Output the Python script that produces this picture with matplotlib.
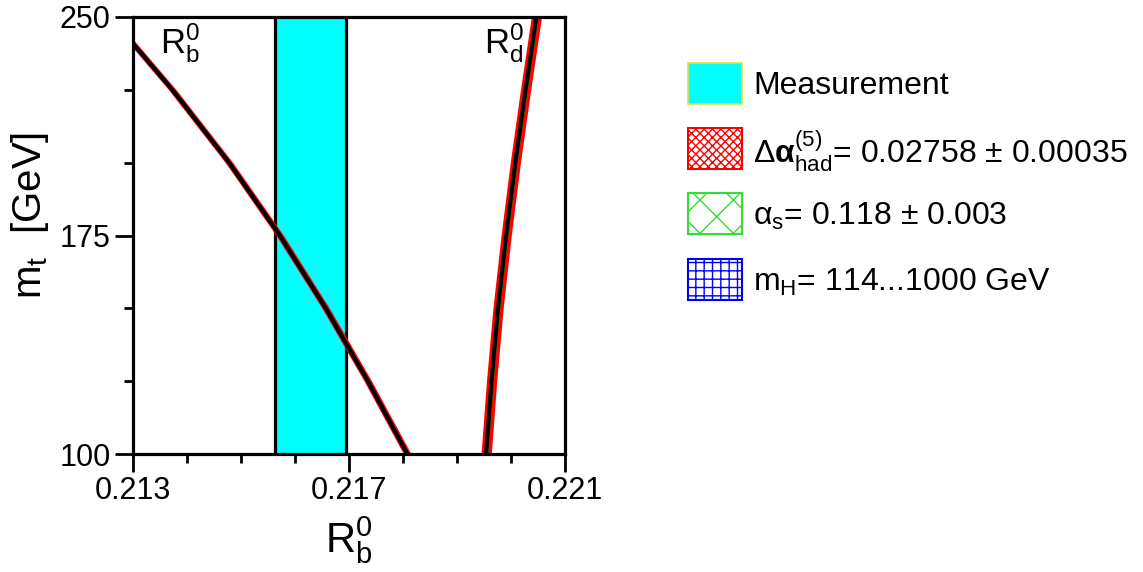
import matplotlib
matplotlib.use("Agg")
import matplotlib.pyplot as plt
from matplotlib.patches import Rectangle
import numpy as np

plt.rcParams['font.family'] = ['Liberation Sans', 'DejaVu Sans']
plt.rcParams['mathtext.fontset'] = 'custom'
plt.rcParams['mathtext.rm'] = 'Liberation Sans'
plt.rcParams['mathtext.it'] = 'Liberation Sans'
plt.rcParams['mathtext.bf'] = 'Liberation Sans:bold'
plt.rcParams['hatch.linewidth'] = 1.0

# ---- data ----
mt_grid = [100, 125, 150, 175, 200, 225, 250]
rb_curve = [0.21808, 0.21735, 0.21657, 0.21572, 0.21478, 0.21373, 0.21258]
rd_curve = [0.21954, 0.21964, 0.21976, 0.21991, 0.22008, 0.22027, 0.22047]
rb_halfwidth = 0.00007
rd_halfwidth = 0.000095
meas_center = 0.21629
meas_err = 0.00066
x_ticks = [0.213, 0.217, 0.221]
x_ticklabels = ["0.213", "0.217", "0.221"]
y_ticks = [100, 175, 250]
y_ticklabels = ["100", "175", "250"]
legend_labels = ["Measurement",
                 r"$\Delta\mathbf{\alpha}^{(5)}_{\rm had}$= 0.02758 $\pm$ 0.00035",
                 r"$\alpha_{\rm s}$= 0.118 $\pm$ 0.003",
                 r"$\rm m_H$= 114...1000 GeV"]

W, H = 1143, 572
fig = plt.figure(figsize=(W / 100, H / 100), dpi=100)
ax = fig.add_axes([133 / W, 1 - 454 / H, (565 - 133) / W, (454 - 17) / H])

mt = np.array(mt_grid, float)
rb = np.array(rb_curve)
rd = np.array(rd_curve)

# measurement band
ax.axvspan(meas_center - meas_err, meas_center + meas_err, color='cyan', zorder=1)
ax.axvline(meas_center - meas_err, color='black', lw=2.3, zorder=2)
ax.axvline(meas_center + meas_err, color='black', lw=2.3, zorder=2)

# theory bands
ax.fill_betweenx(mt, rb - rb_halfwidth, rb + rb_halfwidth, color='red', lw=0, zorder=3)
ax.plot(rb, mt, color='black', lw=3.0, zorder=4, solid_joinstyle='round')
ax.fill_betweenx(mt, rd - rd_halfwidth, rd + rd_halfwidth, color='red', lw=0, zorder=3)
ax.fill_betweenx(mt, rd - 0.00003, rd + 0.00003, color='#00cc00', lw=0, zorder=3.5)
ax.plot(rd, mt, color='black', lw=3.0, zorder=4, solid_joinstyle='round')

ax.set_xlim(0.213, 0.221)
ax.set_ylim(100, 250)
ax.set_xticks(x_ticks)
ax.set_xticklabels(x_ticklabels)
ax.set_xticks(np.arange(0.213, 0.2211, 0.001), minor=True)
ax.set_yticks(y_ticks)
ax.set_yticklabels(y_ticklabels)
ax.set_yticks(np.arange(100, 251, 25), minor=True)
for s in ax.spines.values():
    s.set_linewidth(2.3)
    s.set_zorder(5)
ax.tick_params(which='major', direction='out', length=13, width=2.0, labelsize=22, pad=3)
ax.tick_params(which='minor', direction='out', length=6.5, width=2.0)

ax.text(0.0625, 0.99, r"$\rm R_b^0$", transform=ax.transAxes, fontsize=25, va='top', ha='left')
ax.text(0.812, 0.99, r"$\rm R_d^0$", transform=ax.transAxes, fontsize=25, va='top', ha='left')

fig.text(349 / W, 1 - 540 / H, r"$\rm R_b^0$", fontsize=30, ha='center', va='center')
fig.text(30 / W, 1 - 215 / H, r"$\rm m_t$  [GeV]", fontsize=29, ha='center', va='center',
         rotation=90)

# legend (in figure pixel coordinates)
lax = fig.add_axes([0, 0, 1, 1], zorder=10)
lax.set_xlim(0, W)
lax.set_ylim(H, 0)
lax.axis('off')
styles = [dict(facecolor='cyan', edgecolor='#e0e040', hatch=None, lw=1.2),
          dict(facecolor='white', edgecolor='red', hatch='xxxx', lw=1.5),
          dict(facecolor='white', edgecolor='#33dd33', hatch='x', lw=1.5),
          dict(facecolor='white', edgecolor='blue', hatch='++', lw=1.5)]
tops = [63, 128, 193, 259]
for lab, st, t in zip(legend_labels, styles, tops):
    lax.add_patch(Rectangle((688, t), 54, 41, **st))
    lax.text(753, t + 23, lab, fontsize=23, va='center', ha='left')

fig.savefig("out.png", dpi=100)
